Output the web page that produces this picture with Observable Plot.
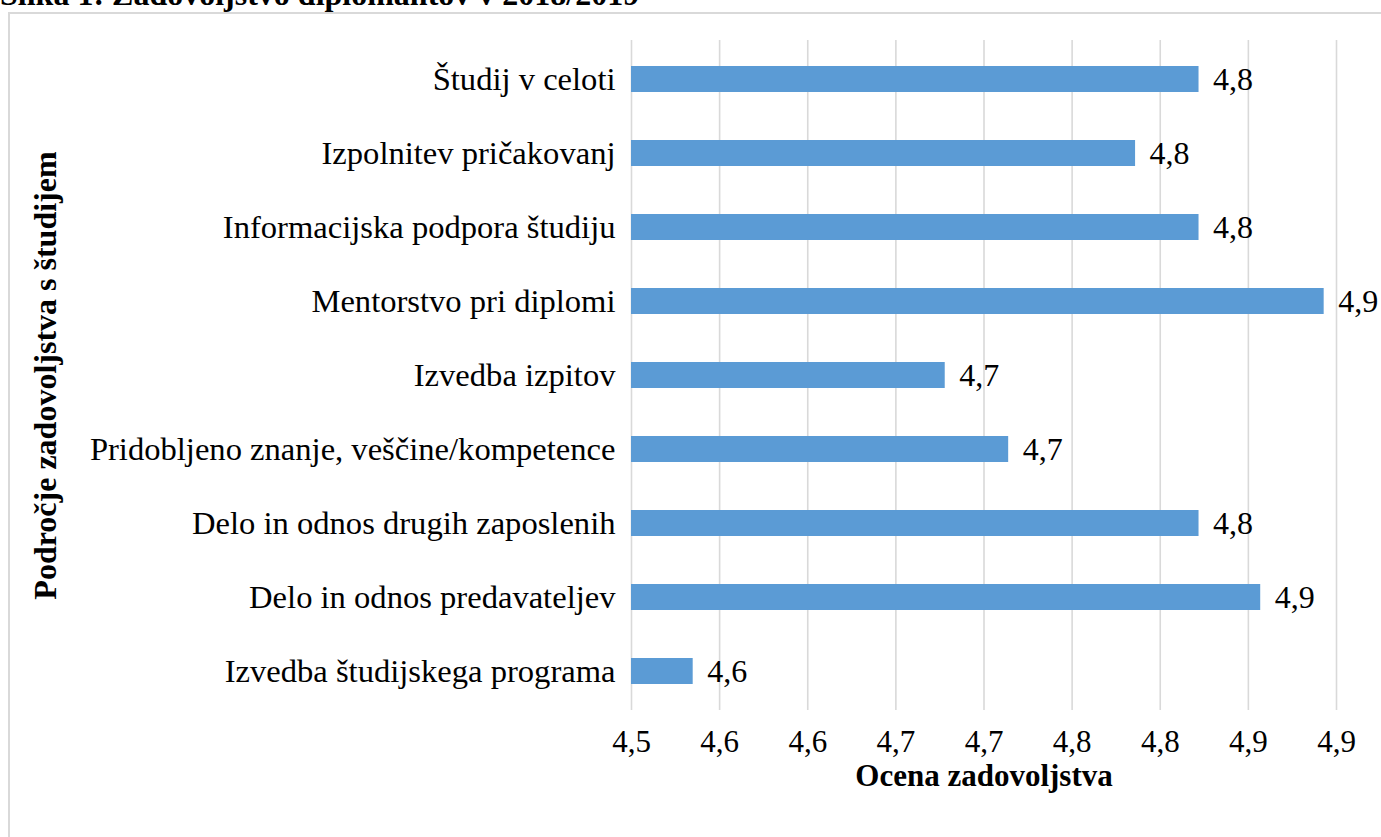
<!DOCTYPE html>
<html>
<head>
<meta charset="utf-8">
<script src="https://cdn.jsdelivr.net/npm/d3@7"></script>
<script src="https://cdn.jsdelivr.net/npm/@observablehq/plot@0.6"></script>
<style>
  html, body { margin: 0; padding: 0; background: #fff; overflow: hidden; width: 1381px; height: 837px; }
  #title { position: absolute; left: 0px; top: -24px; font-family: "Liberation Serif", "Times New Roman", serif; font-weight: bold; font-size: 32px; white-space: nowrap; color: #000; }
  #frame { position: absolute; left: 8px; top: 12px; width: 1400px; height: 900px; border: 2px solid #d9d9d9; box-sizing: border-box; }
  #chart { position: absolute; left: 0; top: 0; }
</style>
</head>
<body>
<div id="title">Slika 1: Zadovoljstvo diplomantov v 2018/2019</div>
<div id="frame"></div>
<div id="chart"></div>
<script>
// Categories, top to bottom
const categories = [
  "Študij v celoti",
  "Izpolnitev pričakovanj",
  "Informacijska podpora študiju",
  "Mentorstvo pri diplomi",
  "Izvedba izpitov",
  "Pridobljeno znanje, veščine/kompetence",
  "Delo in odnos drugih zaposlenih",
  "Delo in odnos predavateljev",
  "Izvedba študijskega programa"
];
// Satisfaction scores
const values = [4.842, 4.806, 4.842, 4.913, 4.698, 4.734, 4.842, 4.877, 4.555];
// Axis ticks and their labels as printed
const xTicks = [4.52, 4.57, 4.62, 4.67, 4.72, 4.77, 4.82, 4.87, 4.92];
const xTickLabels = ["4,5", "4,6", "4,6", "4,7", "4,7", "4,8", "4,8", "4,9", "4,9"];
const xTitle = "Ocena zadovoljstva";
const yTitle = "Področje zadovoljstva s študijem";

const data = categories.map((c, i) => ({cat: c, value: values[i]}));
const fmt = v => d3.format(".1f")(v).replace(".", ",");
const xMin = xTicks[0], xMax = xTicks[xTicks.length - 1];

const font = "'Liberation Serif', 'Times New Roman', serif";
const fs = 32;

const chart = Plot.plot({
  width: 1381,
  height: 837,
  marginLeft: 631,
  marginRight: 45,
  marginTop: 40,
  marginBottom: 127,
  style: {fontFamily: font, fontSize: fs + "px", color: "#000", background: "transparent"},
  x: {domain: [xMin, xMax]},
  y: {domain: categories, padding: 0},
  marks: [
    Plot.gridX(xTicks, {stroke: "#d9d9d9", strokeOpacity: 1, strokeWidth: 1.6}),
    Plot.barX(data, {x1: () => xMin, x2: "value", y: "cat", fill: "#5b9bd5", insetTop: 24, insetBottom: 24}),
    Plot.text(data, {x: "value", y: "cat", text: d => fmt(d.value), dx: 14, textAnchor: "start", fill: "#000", fontSize: fs}),
    Plot.axisY({tickSize: 0, tickPadding: 16, label: null, fontSize: 32.6}),
    Plot.axisX(xTicks, {tickSize: 0, tickPadding: 19, tickFormat: (d, i) => xTickLabels[i], label: null, fontSize: 31}),
    Plot.text([xTitle], {frameAnchor: "bottom", dy: 66, lineAnchor: "middle", fontWeight: "bold", fontSize: 31, fill: "#000"}),
    Plot.text([yTitle], {frameAnchor: "left", dx: -586, rotate: -90, textAnchor: "middle", lineAnchor: "middle", fontWeight: "bold", fontSize: fs, fill: "#000"})
  ]
});
document.getElementById("chart").appendChild(chart);
</script>
</body>
</html>
